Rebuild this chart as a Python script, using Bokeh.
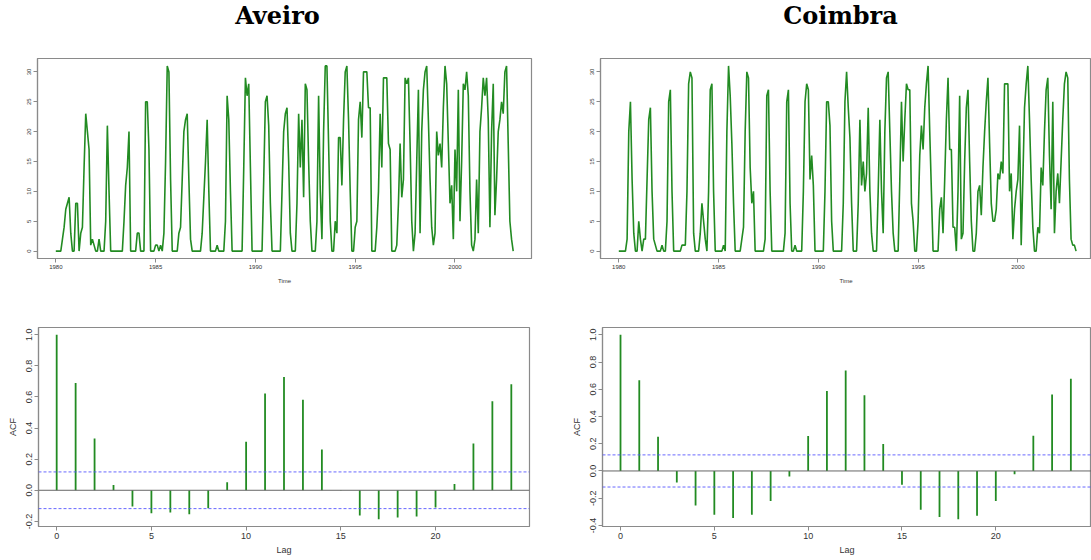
from bokeh.plotting import figure
from bokeh.layouts import column, row
from bokeh.models import FixedTicker, Range1d, Span, PrintfTickFormatter, ColumnDataSource, Label
from bokeh.embed import file_html
from bokeh.resources import INLINE

# ---------------- data ----------------
start_year = 1980
months_per_year = 12

aveiro = [
    0, 0, 0, 0, 2, 4, 7, 8, 9, 3, 0, 0,          # 1980
    8, 8, 0, 3, 4, 14, 23, 20, 17, 1, 2, 1,      # 1981
    0, 0, 2, 0, 0, 0, 5, 21, 10, 0, 0, 0,        # 1982
    0, 0, 0, 0, 0, 5, 11, 14, 20, 0, 0, 0,       # 1983
    0, 3, 3, 0, 0, 0, 25, 25, 17, 0, 0, 0,       # 1984
    1, 1, 0, 1, 0, 3, 15, 31, 30, 12, 0, 0,      # 1985
    0, 0, 3, 4, 12, 20, 22, 23, 12, 2, 0, 0,     # 1986
    0, 0, 0, 0, 3, 9, 15, 22, 10, 0, 0, 0,       # 1987
    0, 1, 0, 0, 0, 0, 5, 26, 22, 10, 0, 0,       # 1988
    0, 0, 0, 0, 0, 14, 29, 26, 28, 14, 0, 0,     # 1989
    0, 0, 0, 0, 0, 12, 25, 26, 21, 8, 0, 0,      # 1990
    0, 0, 0, 0, 10, 20, 23, 24, 15, 3, 0, 0,     # 1991
    0, 8, 23, 14, 22, 9, 28, 27, 15, 5, 0, 0,    # 1992
    0, 5, 26, 10, 2, 20, 31, 31, 18, 5, 0, 0,    # 1993
    5, 3, 19, 19, 11, 22, 30, 31, 22, 10, 0, 0,  # 1994
    4, 5, 22, 25, 19, 30, 30, 30, 24, 24, 0, 0,  # 1995
    0, 4, 10, 23, 14, 29, 29, 29, 18, 17, 0, 0,  # 1996
    0, 1, 8, 18, 9, 12, 29, 28, 29, 18, 5, 0,    # 1997
    3, 15, 27, 3, 20, 27, 30, 31, 22, 12, 4, 1,  # 1998
    3, 20, 16, 18, 14, 24, 31, 28, 18, 8, 11, 2, # 1999
    17, 10, 27, 5, 15, 28, 27, 30, 26, 10, 1, 0, # 2000
    2, 12, 3, 20, 24, 29, 26, 29, 22, 4, 20, 28, # 2001
    6, 12, 20, 22, 25, 23, 30, 31, 18, 5, 2, 0,  # 2002
]

coimbra = [
    0, 0, 0, 0, 0, 2, 20, 25, 12, 3, 0, 0,       # 1980
    5, 2, 0, 2, 2, 12, 22, 24, 10, 2, 1, 0,      # 1981
    0, 0, 1, 0, 0, 5, 25, 27, 10, 0, 0, 0,       # 1982
    0, 0, 1, 1, 1, 10, 28, 30, 29, 3, 0, 0,      # 1983
    0, 3, 8, 5, 2, 0, 10, 27, 28, 10, 0, 0,      # 1984
    0, 0, 0, 1, 0, 20, 31, 26, 18, 8, 0, 0,      # 1985
    0, 0, 2, 4, 20, 30, 29, 14, 8, 10, 0, 0,     # 1986
    0, 0, 0, 0, 2, 26, 27, 10, 0, 0, 0, 0,       # 1987
    0, 0, 0, 0, 3, 25, 27, 8, 0, 0, 1, 0,        # 1988
    0, 0, 0, 10, 25, 28, 27, 12, 16, 11, 0, 0,   # 1989
    0, 0, 0, 0, 10, 25, 25, 21, 5, 0, 0, 0,      # 1990
    0, 0, 0, 8, 25, 30, 24, 19, 8, 0, 0, 0,      # 1991
    8, 22, 11, 15, 10, 13, 24, 10, 3, 0, 0, 0,   # 1992
    10, 22, 10, 3, 20, 29, 30, 20, 10, 3, 0, 0,  # 1993
    0, 12, 25, 15, 22, 28, 27, 27, 8, 5, 0, 0,   # 1994
    5, 16, 21, 17, 24, 28, 31, 20, 10, 0, 0, 0,  # 1995
    0, 7, 9, 3, 12, 22, 29, 17, 17, 4, 4, 0,     # 1996
    10, 26, 2, 3, 15, 24, 27, 15, 5, 0, 0, 3,    # 1997
    10, 11, 6, 14, 20, 25, 29, 18, 8, 5, 5, 7,   # 1998
    13, 12, 15, 13, 28, 28, 28, 10, 13, 2, 7, 10, # 1999
    12, 21, 1, 12, 24, 28, 31, 22, 12, 4, 0, 0,  # 2000
    4, 3, 14, 11, 20, 27, 29, 16, 7, 25, 3, 10,  # 2001
    13, 8, 15, 22, 28, 30, 29, 12, 2, 1, 1, 0,   # 2002
]

lags = list(range(25))
acf_aveiro = [1.0, 0.69, 0.333, 0.034, -0.105, -0.147, -0.143, -0.154, -0.115,
              0.051, 0.312, 0.622, 0.729, 0.583, 0.263, -0.002, -0.162, -0.186,
              -0.175, -0.169, -0.111, 0.041, 0.301, 0.573, 0.682]
acf_coimbra = [1.0, 0.666, 0.251, -0.085, -0.254, -0.322, -0.346, -0.322, -0.22,
               -0.041, 0.256, 0.588, 0.739, 0.556, 0.198, -0.102, -0.285, -0.339,
               -0.354, -0.329, -0.22, -0.024, 0.259, 0.561, 0.678]
conf_limit = 0.118

time_ticks = [1980, 1985, 1990, 1995, 2000]
ts_y_ticks = [0, 5, 10, 15, 20, 25, 30]
lag_ticks = [0, 5, 10, 15, 20]
acf_ticks_aveiro = [-0.2, 0.0, 0.2, 0.4, 0.6, 0.8, 1.0]
acf_ticks_coimbra = [-0.4, -0.2, 0.0, 0.2, 0.4, 0.6, 0.8, 1.0]

# ---------------- styling ----------------
GREEN = "#228B22"
FRAME = "#8a8a8a"
LABEL = "#333333"
SANS = "Liberation Sans"
STRIP_H = 42


def base_style(p, tick_size, label_size):
    p.xgrid.visible = False
    p.ygrid.visible = False
    p.outline_line_color = FRAME
    p.outline_line_width = 1.2
    p.outline_line_alpha = 1.0
    p.background_fill_color = "white"
    p.border_fill_color = "white"
    for ax in (p.xaxis, p.yaxis):
        ax.axis_line_color = FRAME
        ax.axis_line_width = 1.2
        ax.major_tick_line_color = FRAME
        ax.major_tick_out = 4
        ax.major_tick_in = 0
        ax.minor_tick_out = 0
        ax.minor_tick_in = 0
        ax.major_label_text_font = SANS
        ax.major_label_text_font_size = tick_size
        ax.major_label_text_color = LABEL
        ax.major_label_standoff = 2
        ax.axis_label_text_font = SANS
        ax.axis_label_text_font_size = label_size
        ax.axis_label_text_font_style = "normal"
        ax.axis_label_text_color = LABEL
    p.yaxis.major_label_orientation = "vertical"


def title_strip(name, width, center_x):
    p = figure(width=width, height=STRIP_H, output_backend="svg", toolbar_location=None,
               x_range=Range1d(0, 1), y_range=Range1d(0, 1),
               min_border_left=0, min_border_right=0, min_border_top=0, min_border_bottom=0)
    p.axis.visible = False
    p.grid.visible = False
    p.outline_line_color = None
    p.add_layout(Label(x=center_x, y=STRIP_H - 15, x_units="screen", y_units="screen",
                       text=name, text_align="center", text_baseline="middle",
                       text_font="DejaVu Serif", text_font_style="bold",
                       text_font_size="24px", text_color="#000000"))
    return p


def ts_panel(values, width, x_end, border_left, border_right):
    times = [start_year + i / months_per_year for i in range(len(values))]
    src = ColumnDataSource(dict(t=times, v=values))
    p = figure(width=width, height=300 - STRIP_H, output_backend="svg", toolbar_location=None,
               x_range=Range1d(1979.083, x_end), y_range=Range1d(-1.24, 32.24),
               min_border_left=border_left, min_border_right=border_right,
               min_border_top=58 - STRIP_H, min_border_bottom=42)
    p.line("t", "v", source=src, line_color=GREEN, line_width=1.6)
    base_style(p, "6px", "6px")
    p.xaxis.ticker = FixedTicker(ticks=time_ticks)
    p.yaxis.ticker = FixedTicker(ticks=ts_y_ticks)
    p.xaxis.axis_label = "Time"
    p.xaxis.axis_label_standoff = 6
    return p


def acf_panel(acf, ticks, y_range, width, x_end, border_left, border_right):
    src = ColumnDataSource(dict(lag=lags, acf=acf, zero=[0.0] * len(lags)))
    p = figure(width=width, height=260, output_backend="svg", toolbar_location=None,
               x_range=Range1d(-0.96, x_end), y_range=Range1d(*y_range),
               min_border_left=border_left, min_border_right=border_right,
               min_border_top=27, min_border_bottom=34)
    p.add_layout(Span(location=0, dimension="width", line_color="#666666", line_width=1))
    for loc in (conf_limit, -conf_limit):
        p.add_layout(Span(location=loc, dimension="width", line_color="#4d4dff",
                          line_dash="3 2", line_width=1, line_alpha=0.85))
    p.segment(x0="lag", y0="zero", x1="lag", y1="acf", source=src,
              line_color=GREEN, line_width=1.8)
    base_style(p, "9px", "9px")
    p.xaxis.ticker = FixedTicker(ticks=lag_ticks)
    p.yaxis.ticker = FixedTicker(ticks=ticks)
    p.yaxis.formatter = PrintfTickFormatter(format="%.1f")
    p.xaxis.axis_label = "Lag"
    p.yaxis.axis_label = "ACF"
    p.xaxis.axis_label_standoff = 3
    p.yaxis.axis_label_standoff = 6
    return p


title_a = title_strip("Aveiro", 568, 277)
title_c = title_strip("Coimbra", 523, 272)
ts_a = ts_panel(aveiro, 568, 2003.833, 37, 37)
ts_c = ts_panel(coimbra, 523, 2003.69, 32, 0)
acf_a = acf_panel(acf_aveiro, acf_ticks_aveiro, (-0.233, 1.047), 568, 24.96, 38, 39)
acf_c = acf_panel(acf_coimbra, acf_ticks_coimbra, (-0.408, 1.054), 523, 25.1, 33, 0)

layout = column(row(title_a, title_c), row(ts_a, ts_c), row(acf_a, acf_c))

open("out.html", "w").write(file_html(layout, INLINE))
